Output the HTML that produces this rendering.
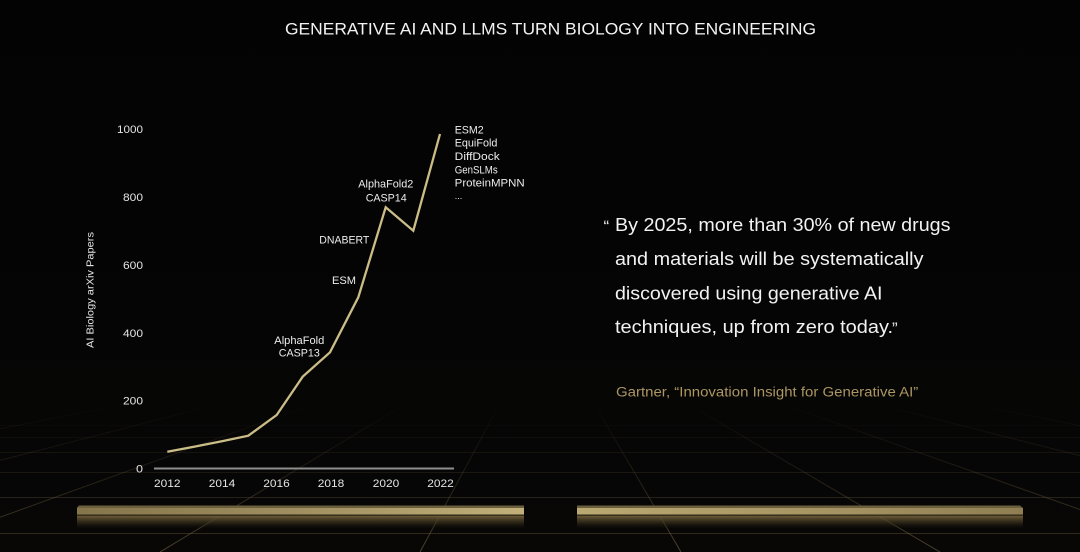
<!DOCTYPE html>
<html>
<head>
<meta charset="utf-8">
<style>
  html, body { margin: 0; padding: 0; background: #040404; }
  body { width: 1080px; height: 552px; overflow: hidden; }
  svg { display: block; }
  text { font-family: "Liberation Sans", "DejaVu Sans", sans-serif; }
</style>
</head>
<body>
<svg width="1080" height="552" viewBox="0 0 1080 552" xmlns="http://www.w3.org/2000/svg">
  <defs>
    <linearGradient id="bg" x1="0" y1="0" x2="0" y2="1">
      <stop offset="0" stop-color="#030303"/>
      <stop offset="0.6" stop-color="#050505"/>
      <stop offset="1" stop-color="#080706"/>
    </linearGradient>
    <linearGradient id="diagFade" gradientUnits="userSpaceOnUse" x1="0" y1="400" x2="0" y2="552">
      <stop offset="0" stop-color="#8a7650" stop-opacity="0"/>
      <stop offset="0.45" stop-color="#8a7650" stop-opacity="0.18"/>
      <stop offset="1" stop-color="#a08a5a" stop-opacity="0.45"/>
    </linearGradient>
    <linearGradient id="barL" x1="0" y1="0" x2="1" y2="0">
      <stop offset="0" stop-color="#85754b"/>
      <stop offset="0.5" stop-color="#a08f60"/>
      <stop offset="1" stop-color="#c2b07a"/>
    </linearGradient>
    <linearGradient id="barR" x1="0" y1="0" x2="1" y2="0">
      <stop offset="0" stop-color="#bba972"/>
      <stop offset="0.6" stop-color="#a49262"/>
      <stop offset="1" stop-color="#8e7e52"/>
    </linearGradient>
    <linearGradient id="refl" x1="0" y1="0" x2="0" y2="1">
      <stop offset="0" stop-color="#76643c" stop-opacity="0.95"/>
      <stop offset="0.45" stop-color="#4e4227" stop-opacity="0.65"/>
      <stop offset="1" stop-color="#2a2415" stop-opacity="0"/>
    </linearGradient>
  </defs>

  <rect width="1080" height="552" fill="url(#bg)"/>

  <!-- perspective floor grid -->
  <g stroke="url(#diagFade)" stroke-width="1" fill="none">
    <line x1="545" y1="320" x2="-616" y2="552"/>
    <line x1="545" y1="320" x2="-356" y2="552"/>
    <line x1="545" y1="320" x2="-96" y2="552"/>
    <line x1="545" y1="320" x2="160" y2="552"/>
    <line x1="545" y1="320" x2="420" y2="552"/>
    <line x1="545" y1="320" x2="681" y2="552"/>
    <line x1="545" y1="320" x2="940" y2="552"/>
    <line x1="545" y1="320" x2="1200" y2="552"/>
    <line x1="545" y1="320" x2="1460" y2="552"/>
    <line x1="545" y1="320" x2="1720" y2="552"/>
  </g>
  <g stroke="#7a6a48" stroke-width="1">
    <line x1="0" y1="533.5" x2="1080" y2="533.5" stroke-opacity="0.35"/>
    <line x1="0" y1="497.5" x2="1080" y2="497.5" stroke-opacity="0.28"/>
    <line x1="0" y1="472.5" x2="1080" y2="472.5" stroke-opacity="0.18"/>
    <line x1="0" y1="452.5" x2="1080" y2="452.5" stroke-opacity="0.13"/>
    <line x1="0" y1="437.5" x2="1080" y2="437.5" stroke-opacity="0.08"/>
    <line x1="0" y1="425.5" x2="1080" y2="425.5" stroke-opacity="0.05"/>
  </g>

  <!-- gold bars -->
  <g>
    <rect x="77" y="515.5" width="447" height="13" fill="url(#refl)"/>
    <path d="M79 505.5 L524 505.5 L524 508 L77 508 L77 507.5 Z" fill="#6c5f3e"/>
    <rect x="77" y="508" width="447" height="6.5" fill="url(#barL)"/>
    <rect x="77" y="514.5" width="447" height="1.3" fill="#2b2515"/>

    <rect x="577" y="515.5" width="446" height="13" fill="url(#refl)"/>
    <path d="M577 505.5 L1020 505.5 L1023 508 L577 508 Z" fill="#6c5f3e"/>
    <rect x="577" y="508" width="446" height="6.5" fill="url(#barR)"/>
    <rect x="577" y="514.5" width="446" height="1.3" fill="#2b2515"/>
  </g>

  <!-- title -->
  <text x="285" y="34.3" font-size="16.7" fill="#f2f2f2" textLength="531" lengthAdjust="spacingAndGlyphs">GENERATIVE AI AND LLMS TURN BIOLOGY INTO ENGINEERING</text>

  <!-- chart -->
  <g font-size="11" fill="#e4e4e4">
    <text x="143" y="133" text-anchor="end" textLength="26" lengthAdjust="spacingAndGlyphs">1000</text>
    <text x="143" y="201" text-anchor="end" textLength="20" lengthAdjust="spacingAndGlyphs">800</text>
    <text x="143" y="269" text-anchor="end" textLength="20" lengthAdjust="spacingAndGlyphs">600</text>
    <text x="143" y="337" text-anchor="end" textLength="20" lengthAdjust="spacingAndGlyphs">400</text>
    <text x="143" y="404.5" text-anchor="end" textLength="20" lengthAdjust="spacingAndGlyphs">200</text>
    <text x="143" y="472.5" text-anchor="end" textLength="7" lengthAdjust="spacingAndGlyphs">0</text>

    <text x="167.3" y="487" text-anchor="middle" textLength="26.5" lengthAdjust="spacingAndGlyphs">2012</text>
    <text x="222" y="487" text-anchor="middle" textLength="26.5" lengthAdjust="spacingAndGlyphs">2014</text>
    <text x="276.5" y="487" text-anchor="middle" textLength="26.5" lengthAdjust="spacingAndGlyphs">2016</text>
    <text x="331" y="487" text-anchor="middle" textLength="26.5" lengthAdjust="spacingAndGlyphs">2018</text>
    <text x="386" y="487" text-anchor="middle" textLength="26.5" lengthAdjust="spacingAndGlyphs">2020</text>
    <text x="440.5" y="487" text-anchor="middle" textLength="26.5" lengthAdjust="spacingAndGlyphs">2022</text>
  </g>
  <line x1="154" y1="468.5" x2="454" y2="468.5" stroke="#8e8e8e" stroke-width="2"/>

  <text transform="translate(93.5,290) rotate(-90)" font-size="10.5" fill="#e4e4e4" text-anchor="middle" textLength="116" lengthAdjust="spacingAndGlyphs">AI Biology arXiv Papers</text>

  <polyline fill="none" stroke="#cbbd87" stroke-width="2.3" stroke-linejoin="miter" stroke-linecap="butt"
    points="167.3,451.7 194.6,446.6 221.9,441.3 248.3,435.7 276.7,415 302.7,376.7 330,352.3 358.3,297.3 385.7,207.3 413.3,230.7 440,134"/>

  <g font-size="11" fill="#ececec" text-anchor="middle">
    <text x="299.3" y="344" textLength="50" lengthAdjust="spacingAndGlyphs">AlphaFold</text>
    <text x="299.3" y="356.5" textLength="41" lengthAdjust="spacingAndGlyphs">CASP13</text>
    <text x="344" y="284" textLength="24" lengthAdjust="spacingAndGlyphs">ESM</text>
    <text x="344.3" y="243.3" textLength="50" lengthAdjust="spacingAndGlyphs">DNABERT</text>
    <text x="385.8" y="187.3" textLength="55" lengthAdjust="spacingAndGlyphs">AlphaFold2</text>
    <text x="386.2" y="201.3" textLength="41" lengthAdjust="spacingAndGlyphs">CASP14</text>
  </g>
  <g font-size="11" fill="#ececec">
    <text x="454.7" y="133.3" textLength="29" lengthAdjust="spacingAndGlyphs">ESM2</text>
    <text x="454.7" y="146.7" textLength="42.7" lengthAdjust="spacingAndGlyphs">EquiFold</text>
    <text x="454.7" y="160" textLength="45" lengthAdjust="spacingAndGlyphs">DiffDock</text>
    <text x="454.7" y="173.3" textLength="43" lengthAdjust="spacingAndGlyphs">GenSLMs</text>
    <text x="454.7" y="186.7" textLength="70" lengthAdjust="spacingAndGlyphs">ProteinMPNN</text>
    <text x="454.7" y="199" font-size="9">...</text>
  </g>

  <!-- quote -->
  <text x="603.5" y="232" font-size="17" fill="#e8e8e8">“</text>
  <g font-size="18" fill="#f2f2f2">
    <text x="615" y="231" textLength="335.5" lengthAdjust="spacingAndGlyphs">By 2025, more than 30% of new drugs</text>
    <text x="615" y="265" textLength="308.5" lengthAdjust="spacingAndGlyphs">and materials will be systematically</text>
    <text x="615" y="299.3" textLength="267.5" lengthAdjust="spacingAndGlyphs">discovered using generative AI</text>
    <text x="615" y="332.8" textLength="278" lengthAdjust="spacingAndGlyphs">techniques, up from zero today.</text>
  </g>
  <text x="892" y="334" font-size="17" fill="#e8e8e8">”</text>

  <text x="616" y="396.7" font-size="13.5" fill="#ad9662" textLength="302.3" lengthAdjust="spacingAndGlyphs">Gartner, “Innovation Insight for Generative AI”</text>
</svg>
</body>
</html>
